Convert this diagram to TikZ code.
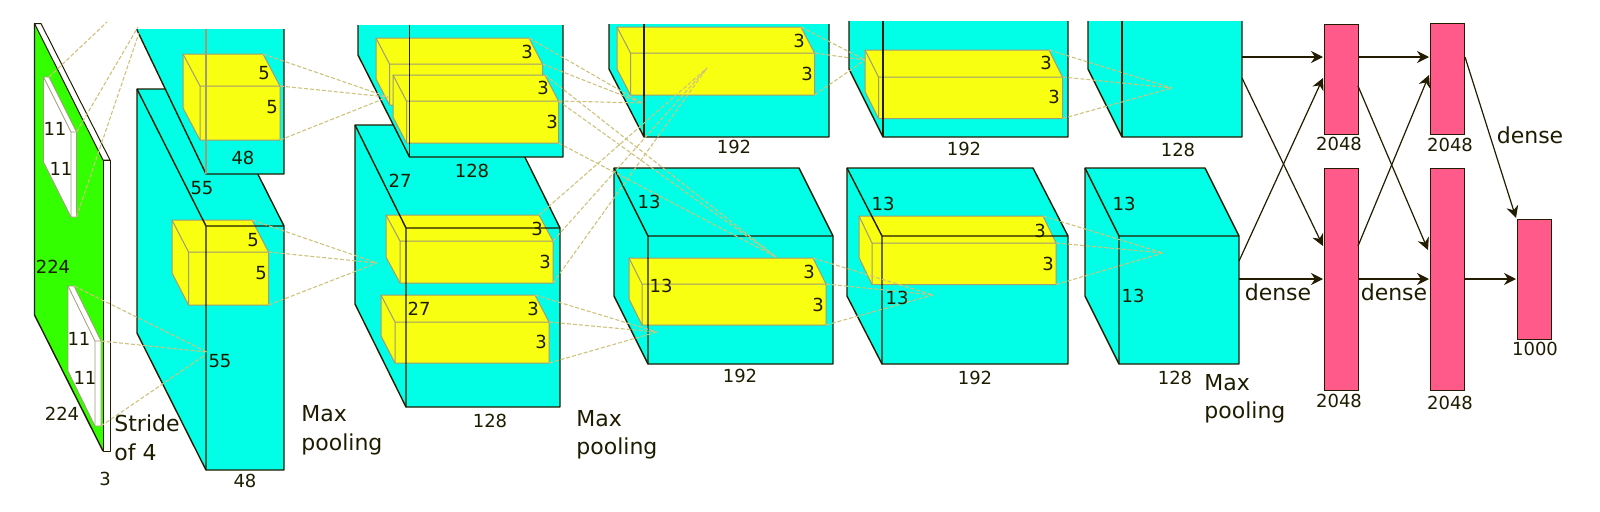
\documentclass[tikz,border=0pt]{standalone}
\usepackage{fontspec}
\setmainfont{DejaVu Sans}
\usetikzlibrary{arrows.meta,calc}
\definecolor{cyanc}{RGB}{0,255,230}
\definecolor{yellowc}{RGB}{248,255,16}
\definecolor{greenc}{RGB}{51,255,0}
\definecolor{pinkc}{RGB}{255,90,138}
\definecolor{edgec}{RGB}{35,28,0}
\definecolor{dashc}{RGB}{205,195,125}
\definecolor{greyc}{RGB}{160,155,120}
\definecolor{textc}{RGB}{30,28,0}
\tikzset{
  wire/.style={draw=edgec,line width=0.7pt,line join=round},
  thinwire/.style={draw=edgec,line width=0.5pt,line join=round},
  cyanface/.style={fill=cyanc},
  yellowface/.style={fill=yellowc,draw=greyc,line width=0.5pt,line join=round},
  whiteface/.style={fill=white,draw=greyc,line width=0.4pt,line join=round},
  conv/.style={draw=dashc,line width=0.55pt,dash pattern=on 2pt off 1pt},
  lab/.style={font=\fontsize{9}{11}\selectfont,text=textc,inner sep=0pt},
  biglab/.style={font=\fontsize{11}{14.25}\selectfont,text=textc,inner sep=0pt,align=left,anchor=west},
  bar/.style={draw=edgec,fill=pinkc,line width=0.7pt,anchor=north west,inner sep=0pt,minimum width=0pt},
  flow/.style={draw=edgec,line width=0.6pt,-{Stealth[length=6pt,width=6pt]}}
}
% name, x, y, w, h, dx, dy, style
\newcommand{\brick}[8]{
  \draw[#8] (#2,#3) coordinate (#1-tl) -- ++(#4,0) coordinate (#1-tr) -- ++(#6,#7) coordinate (#1-fr)
    -- ++(0,#5) coordinate (#1-br) -- ++(-#4,0) coordinate (#1-bl) -- ++(-#6,-#7) -- cycle;
  \coordinate (#1-fl) at ($(#2,#3)+(#6,#7)$);
  \draw[#8,fill=none] (#1-tl) -- (#1-fl) -- (#1-fr) (#1-fl) -- (#1-bl);
}
% name, x, y, w, h, dx, dy : full cyan block, faces only
\newcommand{\blockfill}[7]{
  \fill[cyanface] (#2,#3) coordinate (#1-tl) -- ++(#4,0) coordinate (#1-tr) -- ++(#6,#7) coordinate (#1-fr)
    -- ++(0,#5) coordinate (#1-br) -- ++(-#4,0) coordinate (#1-bl) -- ++(-#6,-#7) coordinate (#1-lb) -- cycle;
  \coordinate (#1-fl) at ($(#2,#3)+(#6,#7)$);
}
\newcommand{\blockwire}[1]{
  \draw[wire] (#1-tl) -- (#1-tr) -- (#1-fr) -- (#1-br) -- (#1-bl) -- (#1-lb) -- cycle;
  \draw[wire] (#1-tl) -- (#1-fl) -- (#1-fr) (#1-fl) -- (#1-bl);
}
% name, x, ytop, yback, fx, fy, right : block cropped at the top, faces only
\newcommand{\cutfill}[7]{
  \fill[cyanface] (#2,#3) coordinate (#1-a) -- (#7,#3) coordinate (#1-b) -- (#7,#6) coordinate (#1-c)
    -- (#5,#6) coordinate (#1-d) -- (#2,#4) coordinate (#1-e) -- cycle;
  \coordinate (#1-f) at (#5,#3);
}
\newcommand{\cutwire}[1]{
  \draw[wire] (#1-a) -- (#1-e) -- (#1-d) -- (#1-c) -- (#1-b);
  \draw[wire] (#1-f) -- (#1-d);
}
\begin{document}
\begin{tikzpicture}[x=0.5pt,y=-0.5pt]
\useasboundingbox (0,0) rectangle (1600,511);

% input slab
\fill[greenc] (34.5,23.5) coordinate (in-a) -- (103,160) coordinate (in-b) -- (103,451) coordinate (in-c) -- (34.5,315) coordinate (in-d) -- cycle;
\draw[thinwire,fill=white] (in-a) -- (41,23.5) -- (110,160) -- (in-b) -- cycle;
\draw[thinwire,fill=white] (in-b) -- (110,160) -- (110,451) -- (in-c) -- cycle;
\draw[wire] (in-a) -- (in-d) -- (in-c);
\brick{wa}{43.5}{77}{5.5}{85}{27.5}{55}{whiteface}
\brick{wb}{68}{286}{6}{85}{27}{55}{whiteface}

% first convolution layer
\blockfill{lb}{137}{89}{78}{244}{69}{137}
\brick{ya}{172}{220}{80}{53}{16.5}{32}{yellowface}
\blockwire{lb}
\cutfill{la}{137}{29}{30}{206}{174}{284}
\brick{yb}{183}{54}{80}{54}{17}{32}{yellowface}
\cutwire{la}
\draw[draw=greyc,line width=0.7pt] (la-f) -- (la-d);

% second layer
\blockfill{mb}{355}{125}{154}{179}{51}{103}
\brick{yc}{386}{215}{153}{42}{14}{26}{yellowface}
\brick{yd}{381}{295}{154}{41}{14}{27}{yellowface}
\blockwire{mb}
\cutfill{ma}{358}{25}{55}{409.5}{157}{563}
\brick{ye}{376}{38}{153}{41}{13.5}{26}{yellowface}
\brick{yf}{393}{75}{152}{42}{13.5}{26}{yellowface}
\cutwire{ma}

% third layer
\cutfill{na}{609}{24}{69}{644}{137}{829}
\brick{yg}{617}{27}{184}{42}{13.5}{26}{yellowface}
\cutwire{na}
\blockfill{nb}{614}{168}{185}{128}{34}{68}
\brick{yh}{629}{258}{184}{41}{13}{26}{yellowface}
\blockwire{nb}

% fourth layer
\cutfill{oa}{849}{21}{69}{883}{137}{1068}
\brick{yi}{865}{50}{184}{41.5}{13.5}{27}{yellowface}
\cutwire{oa}
\blockfill{ob}{847}{168}{186}{128}{35}{68}
\brick{yj}{859}{216}{184}{41.5}{13}{27}{yellowface}
\blockwire{ob}

% fifth layer
\cutfill{pa}{1088}{21}{69}{1122}{137}{1242}
\cutwire{pa}
\blockfill{pb}{1085}{168}{120}{128}{34}{68}
\blockwire{pb}

% convergence points
\coordinate (c0a) at (107,22);
\coordinate (c0b) at (138,27);
\coordinate (c0c) at (139,33);
\coordinate (c1) at (207,352);
\coordinate (c1b) at (205,355);
\coordinate (c2) at (388,97);
\coordinate (c3) at (377,263);
\coordinate (c4) at (642,103);
\coordinate (c5) at (776,257);
\coordinate (c6) at (707,68);
\coordinate (c7) at (657,332);
\coordinate (c8) at (865,60);
\coordinate (c9) at (933,295);
\coordinate (c10) at (1172,88);
\coordinate (c11) at (1163,253);

\draw[conv] (wa-tr) -- (c0a);
\draw[conv] (wa-fr) -- (c0b);
\draw[conv] (wa-br) -- (c0c);
\draw[conv] (wb-tr) -- (c1);
\draw[conv] (wb-fr) -- (c1);
\draw[conv] (wb-br) -- (c1b);
\draw[conv] (yb-tr) -- (c2);
\draw[conv] (yb-fr) -- (c2);
\draw[conv] (yb-br) -- (c2);
\draw[conv] (ya-tr) -- (c3);
\draw[conv] (ya-fr) -- (c3);
\draw[conv] (ya-br) -- (c3);
\draw[conv] (ye-tr) -- (c4);
\draw[conv] (ye-fr) -- (c4);
\draw[conv] (yf-fr) -- (c4);
\draw[conv] (yf-tr) -- (c5);
\draw[conv] (yf-fr) -- (c5);
\draw[conv] (yf-br) -- (c5);
\draw[conv] (yc-tr) -- (c6);
\draw[conv] (yc-fr) -- (c6);
\draw[conv] (yc-br) -- (c6);
\draw[conv] (yd-tr) -- (c7);
\draw[conv] (yd-fr) -- (c7);
\draw[conv] (yd-br) -- (c7);
\draw[conv] (yg-tr) -- (c8);
\draw[conv] (yg-fr) -- (c8);
\draw[conv] (yg-br) -- (c8);
\draw[conv] (yh-tr) -- (c9);
\draw[conv] (yh-fr) -- (c9);
\draw[conv] (yh-br) -- (c9);
\draw[conv] (yi-tr) -- (c10);
\draw[conv] (yi-fr) -- (c10);
\draw[conv] (yi-br) -- (c10);
\draw[conv] (yj-tr) -- (c11);
\draw[conv] (yj-fr) -- (c11);
\draw[conv] (yj-br) -- (c11);

% dense bars
\node[bar,minimum width=17pt,minimum height=55pt] (d1a) at (1324,24) {};
\node[bar,minimum width=17pt,minimum height=111pt] (d1b) at (1324,168) {};
\node[bar,minimum width=17pt,minimum height=55.5pt] (d2a) at (1430,23) {};
\node[bar,minimum width=17pt,minimum height=111pt] (d2b) at (1430,168) {};
\node[bar,minimum width=17pt,minimum height=60pt] (d3) at (1517,219) {};

\coordinate (pa1) at (1242,57);
\coordinate (pa2) at (1242,78);
\coordinate (pb1) at (1239,261);
\coordinate (pb2) at (1239,279);
\coordinate (e1) at (1323,57);
\coordinate (e2) at (1323,78);
\coordinate (e3) at (1323,246);
\coordinate (e4) at (1323,279);
\coordinate (f1) at (1358,57);
\coordinate (f2) at (1358,86);
\coordinate (f3) at (1358,246);
\coordinate (f4) at (1358,279);
\coordinate (g1) at (1429,57);
\coordinate (g2) at (1429,75);
\coordinate (g3) at (1428,250);
\coordinate (g4) at (1429,279);
\coordinate (h1) at (1465,57);
\coordinate (h2) at (1516,218);
\coordinate (h3) at (1464,279);
\coordinate (h4) at (1516,279);

\draw[flow] (pa1) -- (e1);
\draw[flow] (pa2) -- (e3);
\draw[flow] (pb1) -- (e2);
\draw[flow] (pb2) -- (e4);
\draw[flow] (f1) -- (g1);
\draw[flow] (f2) -- (g3);
\draw[flow] (f3) -- (g2);
\draw[flow] (f4) -- (g4);
\draw[flow] (h1) -- (h2);
\draw[flow] (h3) -- (h4);

% labels
\node[lab] (t01) at (55,129) {11};
\node[lab] (t02) at (61,169) {11};
\node[lab] (t03) at (79,339) {11};
\node[lab] (t04) at (85,378) {11};
\node[lab] (t05) at (53,267) {224};
\node[lab] (t06) at (62,414) {224};
\node[lab] (t07) at (105,479) {3};
\node[biglab] (t08) at (114,438) {Stride\\of 4};
\node[lab] (t09) at (264,73) {5};
\node[lab] (t10) at (272,107) {5};
\node[lab] (t11) at (243,158) {48};
\node[lab] (t12) at (202,188) {55};
\node[lab] (t13) at (253,240) {5};
\node[lab] (t14) at (261,273) {5};
\node[lab] (t15) at (220,361) {55};
\node[lab] (t16) at (245,481) {48};
\node[biglab] (t17) at (301,430.5) {Max\\pooling};
\node[lab] (t18) at (527,52) {3};
\node[lab] (t19) at (543,88) {3};
\node[lab] (t20) at (552,122) {3};
\node[lab] (t21) at (472,171) {128};
\node[lab] (t22) at (400,181) {27};
\node[lab] (t23) at (537,229) {3};
\node[lab] (t24) at (545,262) {3};
\node[lab] (t25) at (533,309) {3};
\node[lab] (t26) at (541,342) {3};
\node[lab] (t27) at (419,309) {27};
\node[lab] (t28) at (490,421) {128};
\node[biglab] (t29) at (576,435) {Max\\pooling};
\node[lab] (t30) at (799,41) {3};
\node[lab] (t31) at (807,74) {3};
\node[lab] (t32) at (734,147) {192};
\node[lab] (t33) at (649,202) {13};
\node[lab] (t34) at (661,286) {13};
\node[lab] (t35) at (809,272) {3};
\node[lab] (t36) at (818,305) {3};
\node[lab] (t37) at (740,376) {192};
\node[lab] (t38) at (1046,63) {3};
\node[lab] (t39) at (1054,97) {3};
\node[lab] (t40) at (964,149) {192};
\node[lab] (t41) at (883,204) {13};
\node[lab] (t42) at (897,298) {13};
\node[lab] (t43) at (1040,231) {3};
\node[lab] (t44) at (1048,264) {3};
\node[lab] (t45) at (975,378) {192};
\node[lab] (t46) at (1178,150) {128};
\node[lab] (t47) at (1124,204) {13};
\node[lab] (t48) at (1133,296) {13};
\node[lab] (t49) at (1175,378) {128};
\node[biglab] (t50) at (1204,399) {Max\\pooling};
\node[lab] (t51) at (1339,144) {2048};
\node[lab] (t52) at (1450,145) {2048};
\node[lab] (t53) at (1339,401) {2048};
\node[lab] (t54) at (1450,403) {2048};
\node[lab] (t55) at (1535,349) {1000};
\node[biglab,anchor=center] (t56) at (1530,135) {dense};
\node[biglab,anchor=center] (t57) at (1278,292) {dense};
\node[biglab,anchor=center] (t58) at (1394,292) {dense};
\end{tikzpicture}
\end{document}
